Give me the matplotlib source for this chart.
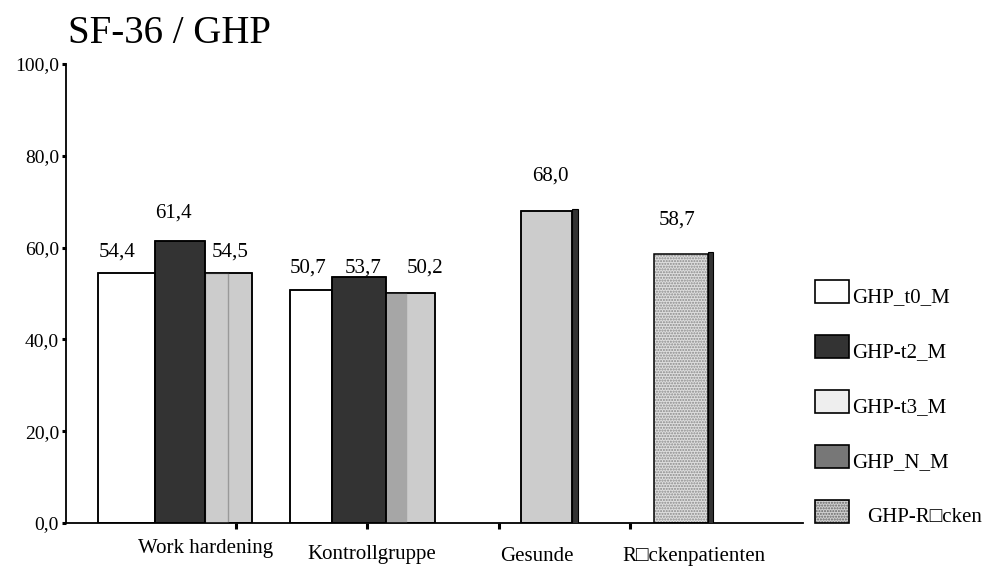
import matplotlib
matplotlib.use('Agg')
import matplotlib.pyplot as plt
from matplotlib.patches import Rectangle

plt.rcParams['font.family'] = ['Liberation Serif', 'DejaVu Serif']

# ---------------- data ----------------
title = 'SF-36 / GHP'
categories = ['Work hardening', 'Kontrollgruppe', 'Gesunde', 'R\u25a1ckenpatienten']
series_names = ['GHP_t0_M', 'GHP-t2_M', 'GHP-t3_M', 'GHP_N_M', 'GHP-R\u25a1cken']

work_hardening = [54.4, 61.4, 54.5]      # t0, t2, t3
kontrollgruppe = [50.7, 53.7, 50.2]      # t0, t2, t3
gesunde = [68.0]                         # N
ruecken = [58.7]                         # Rücken

group_values = [work_hardening, kontrollgruppe, gesunde, ruecken]
group_series = [[0, 1, 2], [0, 1, 2], [3], [4]]

yticks = [0, 20, 40, 60, 80, 100]
ytick_labels = ['0,0', '20,0', '40,0', '60,0', '80,0', '100,0']

# ---------------- layout / style ----------------
bar_left = [[-0.551, -0.117, 0.264], [-0.089, 0.231, 0.642], [0.671], [0.684]]
bar_width = [[0.434, 0.381, 0.358], [0.320, 0.411, 0.374], [0.388], [0.411]]
split_width = [[0, 0, 0.175], [0, 0, 0.152], [0], [0]]
split_face = [[None, None, '#cccccc'], [None, None, '#a6a6a6'], [None], [None]]
split_edge = [[None, None, '#999999'], [None, None, '#a6a6a6'], [None], [None]]
side_width = [[0, 0, 0], [0, 0, 0], [0.046], [0.038]]
label_dx_px = [[-9.5, -7, 1.5], [-3, 4, 14.5], [3.5], [-4]]
label_dy_px = [[21, 28, 21], [22, 8.5, 24.6], [35], [33.6]]
cat_label_dx = [0.268, 0.532, 0.789, 0.985]
cat_label_y = [-0.0545, -0.0697, -0.074, -0.074]

bar_face = ['#ffffff', '#333333', '#cccccc', '#cccccc', '#dedede']
bar_hatch = [None, None, None, None, '......']
legend_face = ['#ffffff', '#333333', '#eeeeee', '#777777', '#d0d0d0']

W, H = 983, 568
fig = plt.figure(figsize=(W / 100, H / 100), dpi=100)
ax = fig.add_axes([66 / W, 1 - 523 / H, (803 - 66) / W, (523 - 64) / H])
ax.set_xlim(-0.795, 4.818)
ax.set_ylim(0, 100)

for sp in ['top', 'right']:
    ax.spines[sp].set_visible(False)
for sp in ['left', 'bottom']:
    ax.spines[sp].set_linewidth(1.3)

ax.set_yticks(yticks)
ax.set_yticklabels(ytick_labels, fontsize=14)
ax.tick_params(axis='y', direction='out', length=3, width=2.2, pad=2)
ax.set_xticks([0.5, 1.5, 2.5, 3.5])
ax.set_xticklabels([])
ax.tick_params(axis='x', direction='out', length=4, width=2.2)

for g, (vals, sers) in enumerate(zip(group_values, group_series)):
    for j, (v, s) in enumerate(zip(vals, sers)):
        left = g + bar_left[g][j]
        w = bar_width[g][j]
        # value label (behind bars)
        ax.annotate(f'{v:.1f}'.replace('.', ','),
                    xy=(left + w / 2, v),
                    xytext=(label_dx_px[g][j] * 0.72, label_dy_px[g][j] * 0.72),
                    textcoords='offset points', ha='center', va='center',
                    fontsize=15, zorder=1)
        if bar_hatch[s]:
            ax.add_patch(Rectangle((left, 0), w, v, facecolor=bar_face[s],
                                   edgecolor='#8a8a8a', hatch=bar_hatch[s],
                                   linewidth=0, zorder=2))
        else:
            ax.add_patch(Rectangle((left, 0), w, v, facecolor=bar_face[s],
                                   edgecolor='black', linewidth=1.1, zorder=2))
        if split_width[g][j]:
            ax.add_patch(Rectangle((left, 0), split_width[g][j], v,
                                   facecolor=split_face[g][j],
                                   edgecolor=split_edge[g][j], linewidth=1.0,
                                   zorder=3))
        ax.add_patch(Rectangle((left, 0), w, v, fill=False,
                               edgecolor='black', linewidth=1.1, zorder=4))
        if side_width[g][j]:
            ax.add_patch(Rectangle((left + w, 0), side_width[g][j], v + 0.4,
                                   facecolor='#333333', edgecolor='black',
                                   linewidth=0.8, zorder=4))

for g, name in enumerate(categories):
    ax.text(g + cat_label_dx[g], cat_label_y[g], name,
            transform=ax.get_xaxis_transform(), ha='center', va='center',
            fontsize=15, clip_on=False)

fig.text(68 / W, 1 - 43 / H, title, fontsize=28, ha='left', va='baseline')

# legend
box_tops = [280, 335, 390, 445, 500]
text_x = [852, 852, 852, 852, 867]
for i, name in enumerate(series_names):
    x0, y0 = 815, box_tops[i] + 23
    if bar_hatch[i]:
        fig.add_artist(Rectangle((x0 / W, 1 - y0 / H), 34 / W, 23 / H,
                                 transform=fig.transFigure, facecolor=legend_face[i],
                                 edgecolor='#666666', hatch=bar_hatch[i],
                                 linewidth=0))
    fig.add_artist(Rectangle((x0 / W, 1 - y0 / H), 34 / W, 23 / H,
                             transform=fig.transFigure,
                             facecolor='none' if bar_hatch[i] else legend_face[i],
                             edgecolor='black', linewidth=1.2))
    fig.text(text_x[i] / W, 1 - (box_tops[i] + 18) / H, name, fontsize=15,
             ha='left', va='center')

fig.savefig('out.png', dpi=100)
